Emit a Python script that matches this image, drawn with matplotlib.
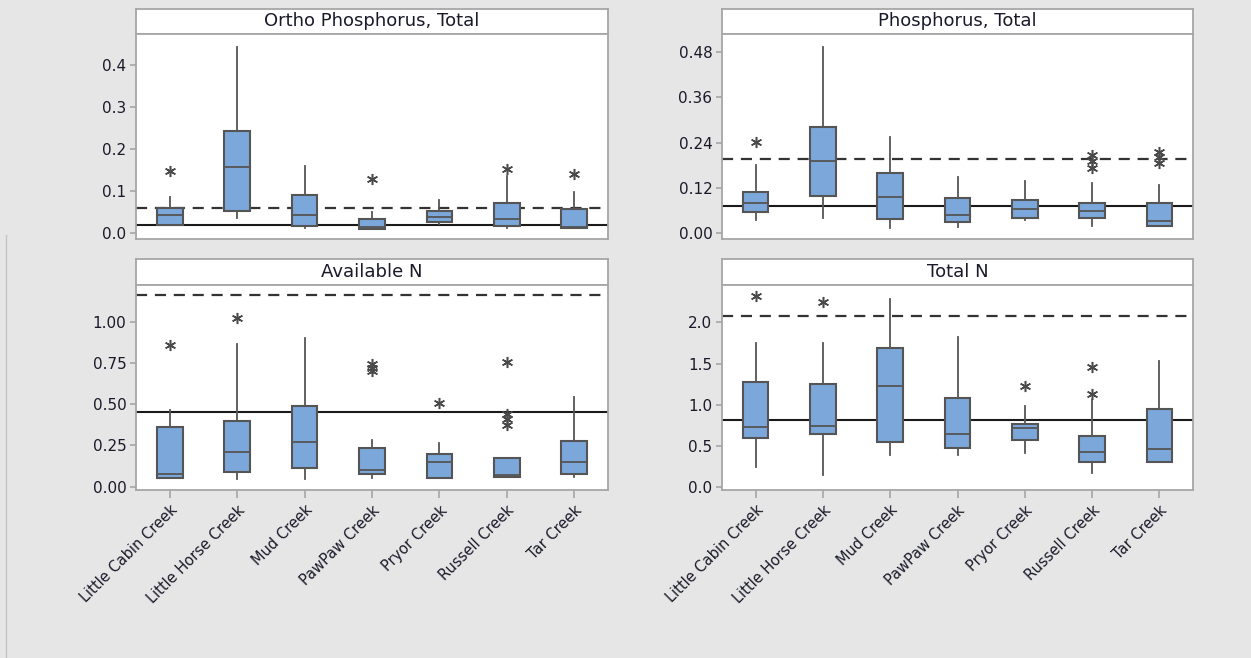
#!/usr/bin/env python3
"""
Boxplots of nutrient concentrations by creek (Minitab-style panel layout).
Four panels: Ortho Phosphorus, Phosphorus, Available N, Total N.
Dashed / solid horizontal lines are reference criteria.
"""

import matplotlib
matplotlib.use('Agg')
import matplotlib.pyplot as plt

creeks = ['Little Cabin Creek', 'Little Horse Creek', 'Mud Creek', 'PawPaw Creek',
          'Pryor Creek', 'Russell Creek', 'Tar Creek']

# --- Ortho Phosphorus, Total ---
ortho_q1 = [0.018, 0.051, 0.017, 0.010, 0.025, 0.017, 0.012]
ortho_med = [0.043, 0.156, 0.043, 0.014, 0.038, 0.033, 0.014]
ortho_q3 = [0.060, 0.242, 0.090, 0.033, 0.051, 0.071, 0.056]
ortho_wlo = [0.018, 0.036, 0.012, 0.008, 0.020, 0.012, 0.012]
ortho_whi = [0.084, 0.444, 0.158, 0.049, 0.077, 0.135, 0.098]
ortho_out = [[0.147], [], [], [0.127], [], [0.152], [0.139]]
ortho_dash, ortho_solid = 0.060, 0.018
ortho_ticks = [0.0, 0.1, 0.2, 0.3, 0.4]
ortho_labels = ['0.0', '0.1', '0.2', '0.3', '0.4']

# --- Phosphorus, Total ---
phos_q1 = [0.057, 0.100, 0.037, 0.031, 0.041, 0.041, 0.020]
phos_med = [0.081, 0.191, 0.095, 0.048, 0.063, 0.059, 0.033]
phos_q3 = [0.110, 0.280, 0.159, 0.094, 0.088, 0.079, 0.079]
phos_wlo = [0.035, 0.040, 0.013, 0.018, 0.035, 0.019, 0.019]
phos_whi = [0.181, 0.493, 0.255, 0.150, 0.138, 0.134, 0.128]
phos_out = [[0.242], [], [], [], [], [0.208, 0.192, 0.172], [0.216, 0.203, 0.185]]
phos_dash, phos_solid = 0.196, 0.073
phos_ticks = [0.0, 0.12, 0.24, 0.36, 0.48]
phos_labels = ['0.00', '0.12', '0.24', '0.36', '0.48']

# --- Available N ---
avn_q1 = [0.050, 0.087, 0.111, 0.075, 0.050, 0.060, 0.077]
avn_med = [0.075, 0.208, 0.269, 0.101, 0.152, 0.070, 0.147]
avn_q3 = [0.364, 0.400, 0.489, 0.232, 0.198, 0.172, 0.279]
avn_wlo = [0.050, 0.046, 0.046, 0.050, 0.050, 0.060, 0.060]
avn_whi = [0.465, 0.865, 0.903, 0.283, 0.263, 0.172, 0.541]
avn_out = [[0.855], [1.02], [], [0.74, 0.72, 0.70], [0.505], [0.754, 0.44, 0.41, 0.375], []]
avn_dash, avn_solid = 1.158, 0.45
avn_ticks = [0.0, 0.25, 0.5, 0.75, 1.0]
avn_labels = ['0.00', '0.25', '0.50', '0.75', '1.00']

# --- Total N ---
tn_q1 = [0.589, 0.638, 0.541, 0.467, 0.569, 0.297, 0.305]
tn_med = [0.732, 0.740, 1.228, 0.642, 0.720, 0.419, 0.459]
tn_q3 = [1.272, 1.248, 1.687, 1.085, 0.764, 0.618, 0.950]
tn_wlo = [0.236, 0.142, 0.386, 0.386, 0.415, 0.171, 0.305]
tn_whi = [1.748, 1.748, 2.285, 1.821, 0.988, 1.057, 1.533]
tn_out = [[2.317], [2.248], [], [], [1.228], [1.463, 1.126], []]
tn_dash, tn_solid = 2.08, 0.813
tn_ticks = [0.0, 0.5, 1.0, 1.5, 2.0]
tn_labels = ['0.0', '0.5', '1.0', '1.5', '2.0']

BG = '#e6e6e6'
FRAME = '#a6a6a6'
BOX = '#7ba7da'
EDGE = '#555555'
W, H = 1251, 658


def px(x0, y0, x1, y1):
    """Pixel box (top-left origin) -> figure fraction rect."""
    return [x0 / W, 1 - y1 / H, (x1 - x0) / W, (y1 - y0) / H]


def draw_panel(fig, rect_plot, rect_head, title, q1, med, q3, wlo, whi, out,
               dash, solid, ylim, ticks, labels, show_x):
    # header strip
    hx = fig.add_axes(rect_head)
    hx.set_facecolor('white')
    hx.set_xticks([])
    hx.set_yticks([])
    for s in hx.spines.values():
        s.set_color(FRAME)
        s.set_linewidth(1.3)
    hx.text(0.5, 0.5, title, ha='center', va='center', fontsize=13,
            color='#1a1a2a', transform=hx.transAxes)

    ax = fig.add_axes(rect_plot)
    ax.set_facecolor('white')
    stats = []
    for i in range(len(q1)):
        stats.append({'q1': q1[i], 'med': med[i], 'q3': q3[i],
                      'whislo': wlo[i], 'whishi': whi[i], 'fliers': out[i]})

    ax.axhline(solid, color='#1a1a1a', lw=1.5, zorder=1)
    ax.axhline(dash, color='#333333', lw=1.6, ls=(0, (5, 3.5)), zorder=1)

    ax.bxp(stats, positions=range(1, len(q1) + 1), widths=0.38,
           showcaps=False, patch_artist=True,
           boxprops=dict(facecolor=BOX, edgecolor=EDGE, linewidth=1.5),
           medianprops=dict(color=EDGE, linewidth=1.3),
           whiskerprops=dict(color=EDGE, linewidth=1.3),
           flierprops=dict(marker=(6, 2, 0), markersize=8,
                           markeredgecolor='#4a4a4a', markeredgewidth=1.1,
                           linestyle='none'),
           zorder=2)

    ax.set_xlim(0.5, len(q1) + 0.5)
    ax.set_ylim(*ylim)
    ax.set_yticks(ticks)
    ax.set_yticklabels(labels)
    ax.tick_params(axis='y', direction='out', length=4, width=1.2,
                   color=FRAME, labelsize=11, labelcolor='#1a1a2a', pad=3)
    if show_x:
        ax.set_xticks(range(1, len(q1) + 1))
        ax.set_xticklabels(creeks, rotation=45, ha='right',
                           rotation_mode='anchor', fontsize=10.5,
                           color='#1a1a2a')
        ax.tick_params(axis='x', direction='out', length=6, width=1.2,
                       color=FRAME, pad=3)
    else:
        ax.set_xticks([])
    for s in ax.spines.values():
        s.set_color(FRAME)
        s.set_linewidth(1.3)
    return ax


fig = plt.figure(figsize=(W / 100, H / 100), dpi=100)
fig.patch.set_facecolor(BG)

# faint window edge on the left
fig.add_artist(plt.Line2D([5.5 / W, 5.5 / W], [0, 1 - 235 / H],
                          transform=fig.transFigure, color='#c4c4c4', lw=1))

draw_panel(fig, px(136, 34, 608, 239), px(136, 9, 608, 34),
           'Ortho Phosphorus, Total', ortho_q1, ortho_med, ortho_q3,
           ortho_wlo, ortho_whi, ortho_out, ortho_dash, ortho_solid,
           (-0.015, 0.474), ortho_ticks, ortho_labels, False)

draw_panel(fig, px(722, 34, 1193, 239), px(722, 9, 1193, 34),
           'Phosphorus, Total', phos_q1, phos_med, phos_q3,
           phos_wlo, phos_whi, phos_out, phos_dash, phos_solid,
           (-0.015, 0.527), phos_ticks, phos_labels, False)

draw_panel(fig, px(136, 285, 608, 490), px(136, 259, 608, 285),
           'Available N', avn_q1, avn_med, avn_q3,
           avn_wlo, avn_whi, avn_out, avn_dash, avn_solid,
           (-0.02, 1.221), avn_ticks, avn_labels, True)

draw_panel(fig, px(722, 285, 1193, 490), px(722, 259, 1193, 285),
           'Total N', tn_q1, tn_med, tn_q3,
           tn_wlo, tn_whi, tn_out, tn_dash, tn_solid,
           (-0.04, 2.456), tn_ticks, tn_labels, True)

fig.savefig('out.png', dpi=100, facecolor=BG)
